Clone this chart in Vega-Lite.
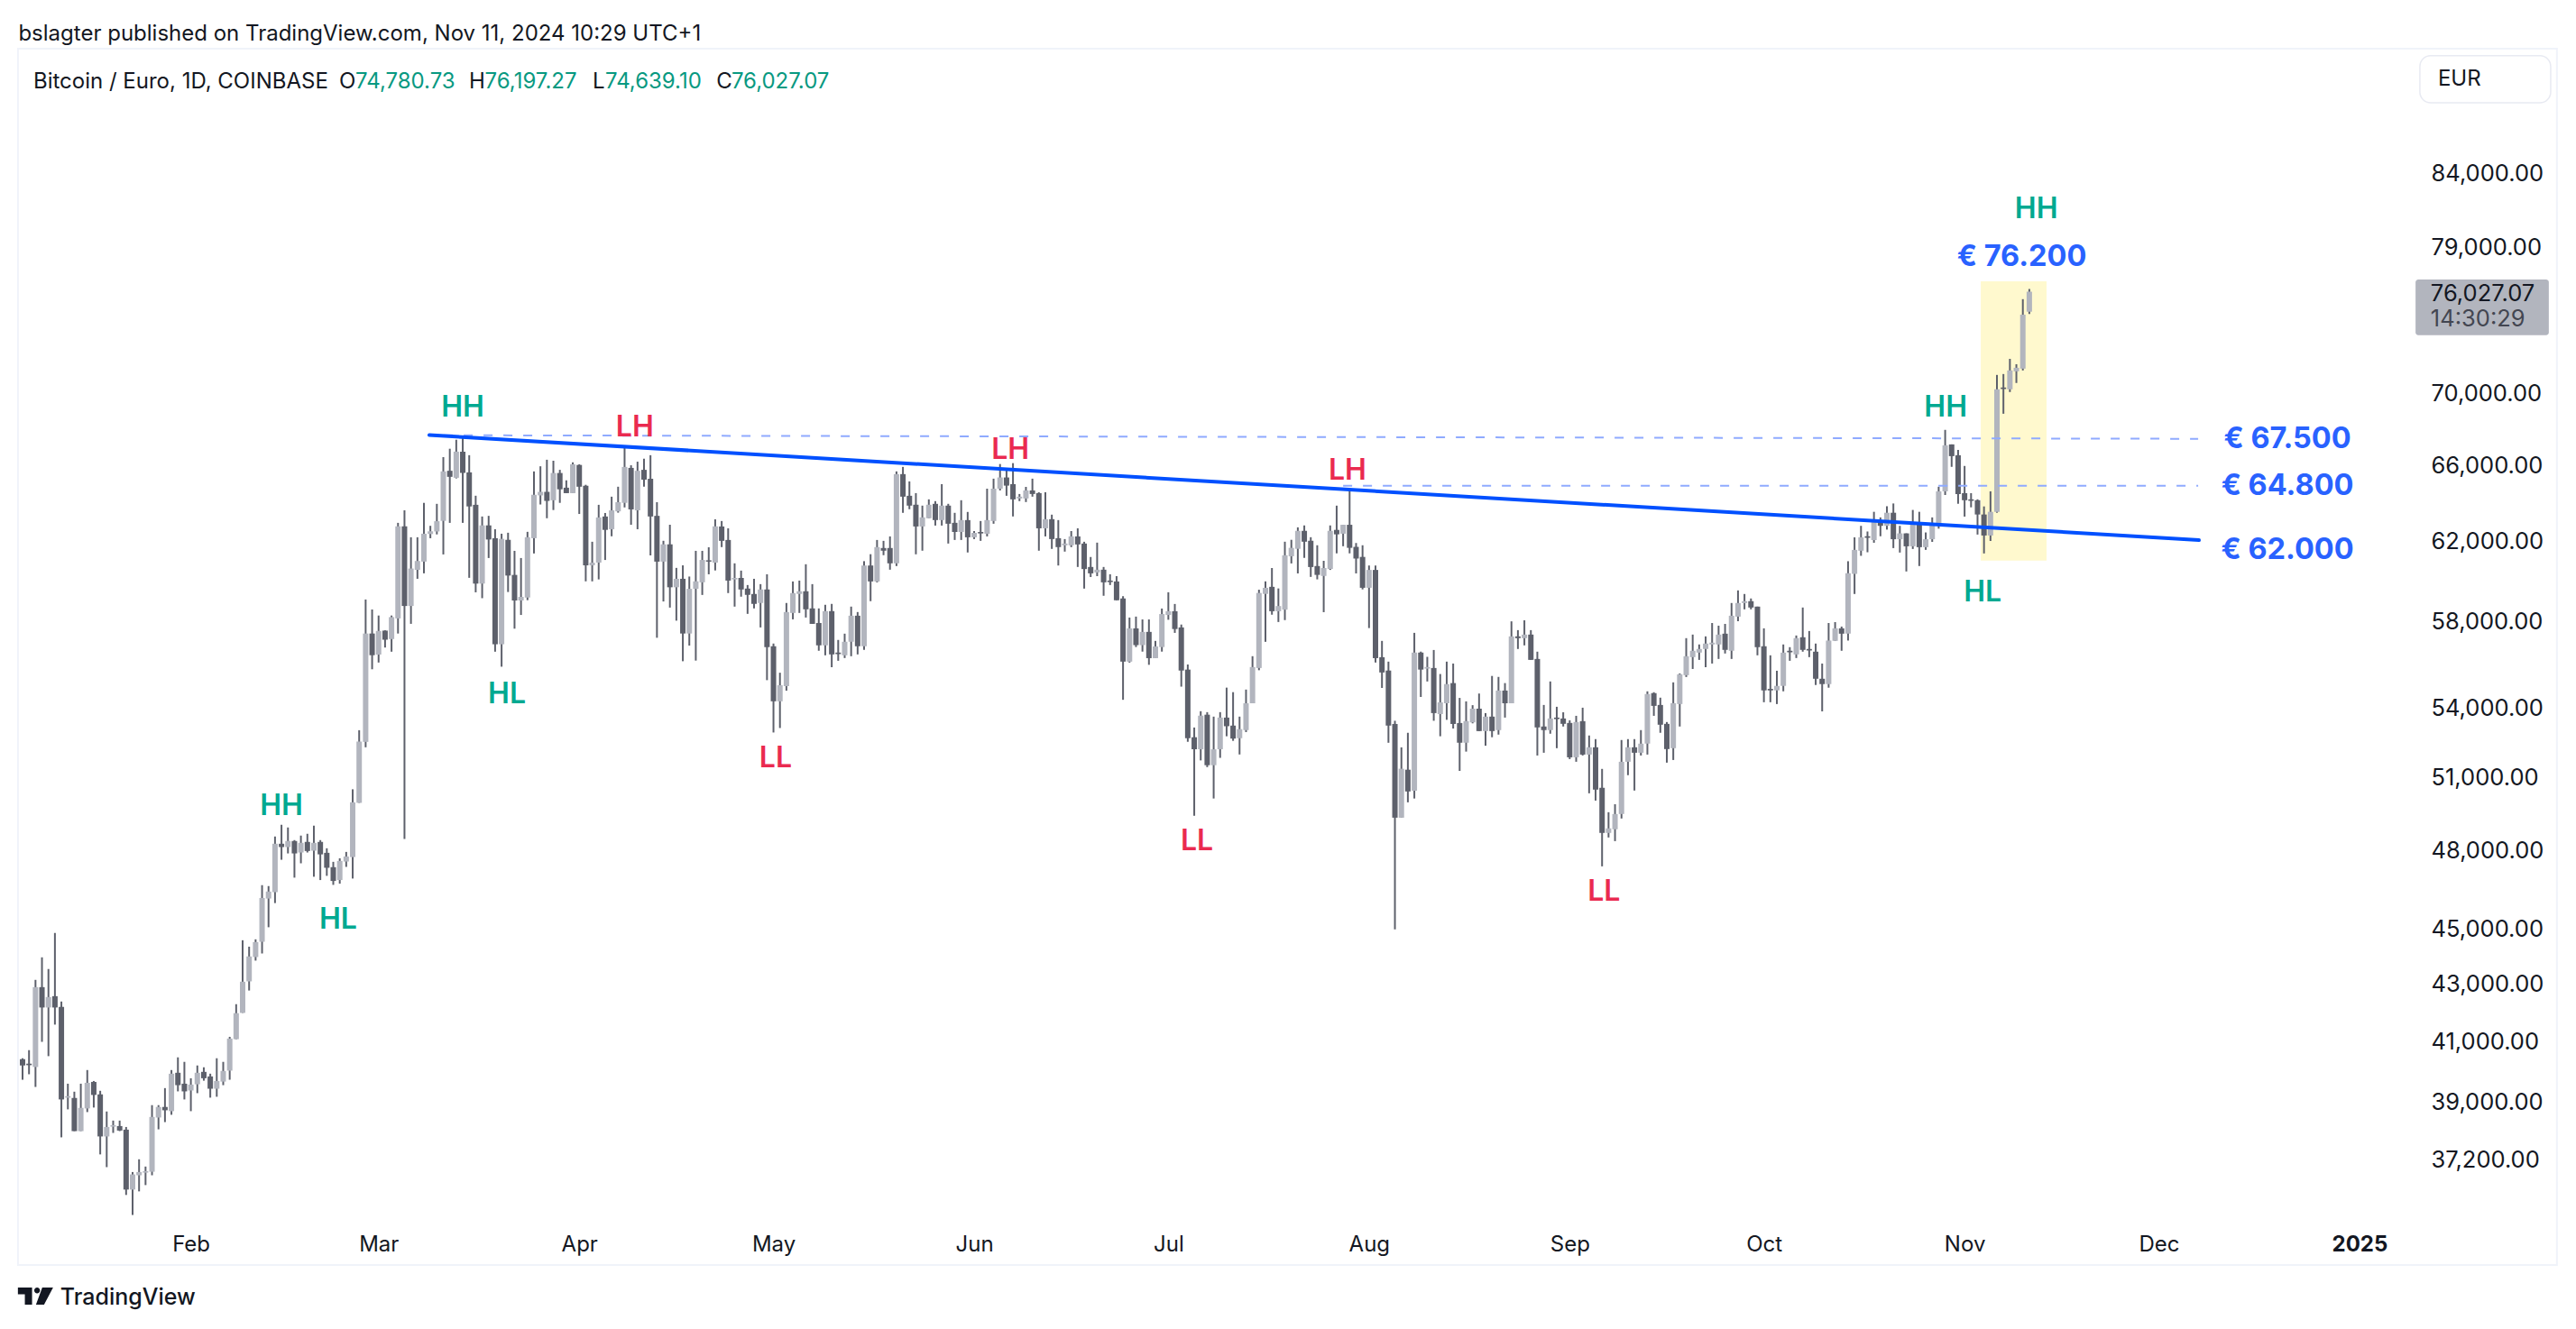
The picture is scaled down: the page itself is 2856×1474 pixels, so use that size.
{"$schema":"https://vega.github.io/schema/vega-lite/v6.json","width":2856,"height":1474,"autosize":{"type":"none"},"padding":0,"background":"white","config":{"view":{"stroke":null},"font":"Inter"},
"resolve":{"scale":{"color":"independent"}},
"datasets":{
"frame":[{"date":"2024-01-05T07:00:00Z","date2":"2025-01-31T12:00:00Z","price":92913,"price2":34043}],
"zone":[{"date":"2024-11-03T12:00:00Z","date2":"2024-11-13T16:00:00Z","price":76680,"price2":60895}],
"button":[{"date":"2025-01-10T08:00:00Z","date2":"2025-01-30T13:00:00Z","price":92383,"price2":88855}],
"tag":[{"date":"2025-01-09T16:00:00Z","date2":"2025-01-30T06:00:00Z","price":76795,"price2":73347}],
"trend":[{"date":"2024-03-08T20:00:00Z","price":67541},{"date":"2024-12-07T05:00:00Z","price":61932}],
"dash1":[{"date":"2024-03-11T02:00:00Z","price":67531},{"date":"2024-12-07T02:00:00Z","price":67331}],
"dash2":[{"date":"2024-07-28T00:00:00Z","price":64779},{"date":"2024-12-07T02:00:00Z","price":64779}],
"swings":[
{"date":"2024-02-15T00:00:00Z","price":49809,"label":"HH","kind":"up"},
{"date":"2024-02-23T18:00:00Z","price":45350,"label":"HL","kind":"up"},
{"date":"2024-03-14T00:00:00Z","price":69195,"label":"HH","kind":"up"},
{"date":"2024-04-09T14:00:00Z","price":68071,"label":"LH","kind":"down"},
{"date":"2024-03-20T20:00:00Z","price":54631,"label":"HL","kind":"up"},
{"date":"2024-05-01T08:00:00Z","price":51800,"label":"LL","kind":"down"},
{"date":"2024-06-06T14:00:00Z","price":66816,"label":"LH","kind":"down"},
{"date":"2024-07-28T16:00:00Z","price":65681,"label":"LH","kind":"down"},
{"date":"2024-07-05T10:00:00Z","price":48373,"label":"LL","kind":"down"},
{"date":"2024-09-06T07:00:00Z","price":46397,"label":"LL","kind":"down"},
{"date":"2024-10-29T02:00:00Z","price":69195,"label":"HH","kind":"up"},
{"date":"2024-11-03T19:00:00Z","price":59404,"label":"HL","kind":"up"},
{"date":"2024-11-12T02:00:00Z","price":81506,"label":"HH","kind":"up"}],
"levels":[
{"date":"2024-11-09T20:00:00Z","price":78370,"label":"€ 76.200"},
{"date":"2024-12-20T21:00:00Z","price":67417,"label":"€ 67.500"},
{"date":"2024-12-20T21:00:00Z","price":64871,"label":"€ 64.800"},
{"date":"2024-12-20T21:00:00Z","price":61532,"label":"€ 62.000"}],
"header":[
{"date":"2024-01-05T08:40:00Z","price":94117,"label":"bslagter published on TradingView.com, Nov 11, 2024 10:29 UTC+1","kind":"ink"},
{"date":"2024-01-07T16:00:00Z","price":90456,"label":"Bitcoin / Euro, 1D, COINBASE","kind":"ink"},
{"date":"2024-02-23T22:00:00Z","price":90456,"label":"O","kind":"ink"},
{"date":"2024-02-26T10:00:00Z","price":90456,"label":"74,780.73","kind":"green"},
{"date":"2024-03-14T23:00:00Z","price":90456,"label":"H","kind":"ink"},
{"date":"2024-03-17T10:00:00Z","price":90456,"label":"76,197.27","kind":"green"},
{"date":"2024-04-03T01:00:00Z","price":90456,"label":"L","kind":"ink"},
{"date":"2024-04-05T00:00:00Z","price":90456,"label":"74,639.10","kind":"green"},
{"date":"2024-04-22T04:00:00Z","price":90456,"label":"C","kind":"ink"},
{"date":"2024-04-24T12:00:00Z","price":90456,"label":"76,027.07","kind":"green"},
{"date":"2025-01-13T03:00:00Z","price":90660,"label":"EUR","kind":"ink"}],
"tagtext":[
{"date":"2025-01-12T00:00:00Z","price":75941,"label":"76,027.07","kind":"ink"},
{"date":"2025-01-12T00:00:00Z","price":74376,"label":"14:30:29","kind":"muted"}],
"brand":[{"date":"2024-01-11T20:00:00Z","price":33144,"label":"TradingView"}],
"logo":[{"date":"2024-01-08T00:00:00Z","price":33181}],
"candles":[
{"date":"2024-01-06","open":40349,"high":40379,"low":39669,"close":40139},
{"date":"2024-01-07","open":40199,"high":40650,"low":39849,"close":40149},
{"date":"2024-01-08","open":40089,"high":43078,"low":39434,"close":42820},
{"date":"2024-01-09","open":42820,"high":43887,"low":40930,"close":42107},
{"date":"2024-01-10","open":42107,"high":43466,"low":40449,"close":42471},
{"date":"2024-01-11","open":42502,"high":44779,"low":41516,"close":42107},
{"date":"2024-01-12","open":42128,"high":42315,"low":37827,"close":39029},
{"date":"2024-01-13","open":39087,"high":39540,"low":38711,"close":39135},
{"date":"2024-01-14","open":39077,"high":39280,"low":38022,"close":38022},
{"date":"2024-01-15","open":38022,"high":39540,"low":38022,"close":38759},
{"date":"2024-01-16","open":38740,"high":39988,"low":38624,"close":39569},
{"date":"2024-01-17","open":39598,"high":39628,"low":38769,"close":39174},
{"date":"2024-01-18","open":39193,"high":39309,"low":37298,"close":37855},
{"date":"2024-01-19","open":37855,"high":38643,"low":36908,"close":38152},
{"date":"2024-01-20","open":38162,"high":38354,"low":37966,"close":38210},
{"date":"2024-01-21","open":38181,"high":38354,"low":38022,"close":38040},
{"date":"2024-01-22","open":38068,"high":38152,"low":36070,"close":36231},
{"date":"2024-01-23","open":36231,"high":36759,"low":35479,"close":36687},
{"date":"2024-01-24","open":36661,"high":37148,"low":36177,"close":36759},
{"date":"2024-01-25","open":36741,"high":36926,"low":36365,"close":36787},
{"date":"2024-01-26","open":36768,"high":38846,"low":36661,"close":38470},
{"date":"2024-01-27","open":38451,"high":38846,"low":38078,"close":38788},
{"date":"2024-01-28","open":38788,"high":39396,"low":38306,"close":38682},
{"date":"2024-01-29","open":38653,"high":39988,"low":38538,"close":39868},
{"date":"2024-01-30","open":39898,"high":40409,"low":39290,"close":39492},
{"date":"2024-01-31","open":39540,"high":40259,"low":39029,"close":39290},
{"date":"2024-02-01","open":39318,"high":39718,"low":38653,"close":39511},
{"date":"2024-02-02","open":39521,"high":40139,"low":39232,"close":39898},
{"date":"2024-02-03","open":39928,"high":40079,"low":39638,"close":39718},
{"date":"2024-02-04","open":39778,"high":39868,"low":39087,"close":39376},
{"date":"2024-02-05","open":39376,"high":40379,"low":39116,"close":39628},
{"date":"2024-02-06","open":39608,"high":40259,"low":39492,"close":39958},
{"date":"2024-02-07","open":39968,"high":41100,"low":39669,"close":41040},
{"date":"2024-02-08","open":41020,"high":42222,"low":41020,"close":41910},
{"date":"2024-02-09","open":41920,"high":44510,"low":41920,"close":43014},
{"date":"2024-02-10","open":43024,"high":44275,"low":42701,"close":43919},
{"date":"2024-02-11","open":43898,"high":44544,"low":43768,"close":44443},
{"date":"2024-02-12","open":44454,"high":46581,"low":44027,"close":46092},
{"date":"2024-02-13","open":46069,"high":46546,"low":44991,"close":46336},
{"date":"2024-02-14","open":46313,"high":48490,"low":45897,"close":48201},
{"date":"2024-02-15","open":48201,"high":48962,"low":47568,"close":48069},
{"date":"2024-02-16","open":48069,"high":48853,"low":47817,"close":48310},
{"date":"2024-02-17","open":48310,"high":48346,"low":46871,"close":47817},
{"date":"2024-02-18","open":47853,"high":48527,"low":47429,"close":48238},
{"date":"2024-02-19","open":48274,"high":48599,"low":47853,"close":47913},
{"date":"2024-02-20","open":47925,"high":48926,"low":46906,"close":48238},
{"date":"2024-02-21","open":48274,"high":48346,"low":46778,"close":47780},
{"date":"2024-02-22","open":47841,"high":48021,"low":46941,"close":47254},
{"date":"2024-02-23","open":47278,"high":47487,"low":46592,"close":46743},
{"date":"2024-02-24","open":46778,"high":47626,"low":46639,"close":47522},
{"date":"2024-02-25","open":47498,"high":47877,"low":47289,"close":47696},
{"date":"2024-02-26","open":47673,"high":50417,"low":46836,"close":49879},
{"date":"2024-02-27","open":49856,"high":52937,"low":49856,"close":52443},
{"date":"2024-02-28","open":52429,"high":58968,"low":52196,"close":57335},
{"date":"2024-02-29","open":57335,"high":58484,"low":55668,"close":56318},
{"date":"2024-03-01","open":56348,"high":58193,"low":55979,"close":57457},
{"date":"2024-03-02","open":57473,"high":57488,"low":56676,"close":57043},
{"date":"2024-03-03","open":57073,"high":58193,"low":56481,"close":58117},
{"date":"2024-03-04","open":58055,"high":62820,"low":57335,"close":62639},
{"date":"2024-03-05","open":62639,"high":63470,"low":48390,"close":58653},
{"date":"2024-03-06","open":58653,"high":62077,"low":57795,"close":60495},
{"date":"2024-03-07","open":60431,"high":62077,"low":59985,"close":60873},
{"date":"2024-03-08","open":60841,"high":63865,"low":60256,"close":62259},
{"date":"2024-03-09","open":62242,"high":62666,"low":62028,"close":62383},
{"date":"2024-03-10","open":62374,"high":63813,"low":62223,"close":62905},
{"date":"2024-03-11","open":62922,"high":66321,"low":61203,"close":65544},
{"date":"2024-03-12","open":65578,"high":66783,"low":62819,"close":65252},
{"date":"2024-03-13","open":65201,"high":67281,"low":65167,"close":66623},
{"date":"2024-03-14","open":66623,"high":67370,"low":62819,"close":65458},
{"date":"2024-03-15","open":65492,"high":66428,"low":60033,"close":63676},
{"date":"2024-03-16","open":63762,"high":64242,"low":59319,"close":59747},
{"date":"2024-03-17","open":59747,"high":63150,"low":59032,"close":62688},
{"date":"2024-03-18","open":62688,"high":63183,"low":61022,"close":61962},
{"date":"2024-03-19","open":62028,"high":62490,"low":56481,"close":56829},
{"date":"2024-03-20","open":56829,"high":62259,"low":55786,"close":61995},
{"date":"2024-03-21","open":61945,"high":62309,"low":59334,"close":60145},
{"date":"2024-03-22","open":60177,"high":61385,"low":57565,"close":58920},
{"date":"2024-03-23","open":58920,"high":61022,"low":58220,"close":59095},
{"date":"2024-03-24","open":59063,"high":62356,"low":58936,"close":62078},
{"date":"2024-03-25","open":62028,"high":65544,"low":61252,"close":64293},
{"date":"2024-03-26","open":64259,"high":65823,"low":63779,"close":64448},
{"date":"2024-03-27","open":64448,"high":66179,"low":63059,"close":63968},
{"date":"2024-03-28","open":64002,"high":66126,"low":63488,"close":65458},
{"date":"2024-03-29","open":65458,"high":65630,"low":63865,"close":64584},
{"date":"2024-03-30","open":64670,"high":65064,"low":64379,"close":64379},
{"date":"2024-03-31","open":64379,"high":66037,"low":64379,"close":65930},
{"date":"2024-04-01","open":65895,"high":65930,"low":63282,"close":64721},
{"date":"2024-04-02","open":64773,"high":64824,"low":59859,"close":60654},
{"date":"2024-04-03","open":60654,"high":61847,"low":59859,"close":60790},
{"date":"2024-04-04","open":60790,"high":63762,"low":59954,"close":63100},
{"date":"2024-04-05","open":63150,"high":63333,"low":60923,"close":62456},
{"date":"2024-04-06","open":62490,"high":64191,"low":62127,"close":63471},
{"date":"2024-04-07","open":63419,"high":64721,"low":63350,"close":63899},
{"date":"2024-04-08","open":63865,"high":66925,"low":63625,"close":65788},
{"date":"2024-04-09","open":65735,"high":65877,"low":62721,"close":63522},
{"date":"2024-04-10","open":63471,"high":66073,"low":62490,"close":65578},
{"date":"2024-04-11","open":65630,"high":66232,"low":64721,"close":65098},
{"date":"2024-04-12","open":65149,"high":66428,"low":61153,"close":63150},
{"date":"2024-04-13","open":63183,"high":63899,"low":57135,"close":60841},
{"date":"2024-04-14","open":60841,"high":61896,"low":58872,"close":61715},
{"date":"2024-04-15","open":61715,"high":62721,"low":58576,"close":59566},
{"date":"2024-04-16","open":59566,"high":60527,"low":57947,"close":59985},
{"date":"2024-04-17","open":59985,"high":60654,"low":56038,"close":57335},
{"date":"2024-04-18","open":57335,"high":60096,"low":56768,"close":59490},
{"date":"2024-04-19","open":59490,"high":61385,"low":56068,"close":59859},
{"date":"2024-04-20","open":59811,"high":61385,"low":59190,"close":60924},
{"date":"2024-04-21","open":60908,"high":61566,"low":60208,"close":60841},
{"date":"2024-04-22","open":60790,"high":63003,"low":60399,"close":62639},
{"date":"2024-04-23","open":62632,"high":62915,"low":61574,"close":61893},
{"date":"2024-04-24","open":61938,"high":62537,"low":59282,"close":59896},
{"date":"2024-04-25","open":59955,"high":60755,"low":58623,"close":60028},
{"date":"2024-04-26","open":60028,"high":60391,"low":59106,"close":59458},
{"date":"2024-04-27","open":59502,"high":59677,"low":58273,"close":59194},
{"date":"2024-04-28","open":59238,"high":59984,"low":58536,"close":58755},
{"date":"2024-04-29","open":58799,"high":59721,"low":57624,"close":59458},
{"date":"2024-04-30","open":59458,"high":60209,"low":55170,"close":56694},
{"date":"2024-05-01","open":56736,"high":56863,"low":52837,"close":54215},
{"date":"2024-05-02","open":54215,"high":55509,"low":53033,"close":54939},
{"date":"2024-05-03","open":54898,"high":58799,"low":54694,"close":58361},
{"date":"2024-05-04","open":58317,"high":59853,"low":58010,"close":59282},
{"date":"2024-05-05","open":59238,"high":59896,"low":58317,"close":59370},
{"date":"2024-05-06","open":59370,"high":60709,"low":58097,"close":58492},
{"date":"2024-05-07","open":58536,"high":59721,"low":57793,"close":57793},
{"date":"2024-05-08","open":57836,"high":58536,"low":56525,"close":56779},
{"date":"2024-05-09","open":56779,"high":58711,"low":56313,"close":58405},
{"date":"2024-05-10","open":58405,"high":58755,"low":55763,"close":56355},
{"date":"2024-05-11","open":56440,"high":57032,"low":56059,"close":56369},
{"date":"2024-05-12","open":56313,"high":57328,"low":56186,"close":56947},
{"date":"2024-05-13","open":56947,"high":58623,"low":56271,"close":58185},
{"date":"2024-05-14","open":58185,"high":58361,"low":56355,"close":56736},
{"date":"2024-05-15","open":56736,"high":60864,"low":56567,"close":60646},
{"date":"2024-05-16","open":60646,"high":61215,"low":58887,"close":59853},
{"date":"2024-05-17","open":59853,"high":61938,"low":59809,"close":61574},
{"date":"2024-05-18","open":61528,"high":61893,"low":61165,"close":61392},
{"date":"2024-05-19","open":61528,"high":62120,"low":60437,"close":60755},
{"date":"2024-05-20","open":60755,"high":65545,"low":60618,"close":65398},
{"date":"2024-05-21","open":65398,"high":65790,"low":63341,"close":64192},
{"date":"2024-05-22","open":64239,"high":65006,"low":63530,"close":63719},
{"date":"2024-05-23","open":63767,"high":64381,"low":61210,"close":62632},
{"date":"2024-05-24","open":62632,"high":63719,"low":61392,"close":63105},
{"date":"2024-05-25","open":63058,"high":64050,"low":63058,"close":63767},
{"date":"2024-05-26","open":63814,"high":63956,"low":62679,"close":62963},
{"date":"2024-05-27","open":62963,"high":64860,"low":62679,"close":63719},
{"date":"2024-05-28","open":63719,"high":63814,"low":61756,"close":62774},
{"date":"2024-05-29","open":62821,"high":63341,"low":61938,"close":62348},
{"date":"2024-05-30","open":62348,"high":64003,"low":61938,"close":62963},
{"date":"2024-05-31","open":62963,"high":63388,"low":61302,"close":62075},
{"date":"2024-06-01","open":62075,"high":62395,"low":61984,"close":62303},
{"date":"2024-06-02","open":62348,"high":62915,"low":61893,"close":62272},
{"date":"2024-06-03","open":62257,"high":64617,"low":62120,"close":62963},
{"date":"2024-06-04","open":62915,"high":65153,"low":62774,"close":64617},
{"date":"2024-06-05","open":64617,"high":65945,"low":64523,"close":65218},
{"date":"2024-06-06","open":65218,"high":65642,"low":64239,"close":64780},
{"date":"2024-06-07","open":64860,"high":65994,"low":63152,"close":64050},
{"date":"2024-06-08","open":64097,"high":64334,"low":63956,"close":64192},
{"date":"2024-06-09","open":64097,"high":64712,"low":63908,"close":64523},
{"date":"2024-06-10","open":64523,"high":65153,"low":64192,"close":64334},
{"date":"2024-06-11","open":64381,"high":64428,"low":61392,"close":62537},
{"date":"2024-06-12","open":62537,"high":64428,"low":62120,"close":63010},
{"date":"2024-06-13","open":63010,"high":63246,"low":61483,"close":61984},
{"date":"2024-06-14","open":62029,"high":62963,"low":60646,"close":61574},
{"date":"2024-06-15","open":61665,"high":61984,"low":61346,"close":61756},
{"date":"2024-06-16","open":61665,"high":62395,"low":61574,"close":62120},
{"date":"2024-06-17","open":62120,"high":62537,"low":60573,"close":61710},
{"date":"2024-06-18","open":61756,"high":61847,"low":59501,"close":60467},
{"date":"2024-06-19","open":60573,"high":61074,"low":60072,"close":60254},
{"date":"2024-06-20","open":60300,"high":61802,"low":60117,"close":60437},
{"date":"2024-06-21","open":60437,"high":60573,"low":59150,"close":59809},
{"date":"2024-06-22","open":59896,"high":60209,"low":59677,"close":59824},
{"date":"2024-06-23","open":59853,"high":60117,"low":58931,"close":58931},
{"date":"2024-06-24","open":59019,"high":59130,"low":54282,"close":56020},
{"date":"2024-06-25","open":56020,"high":58096,"low":55976,"close":57579},
{"date":"2024-06-26","open":57579,"high":58142,"low":56698,"close":56789},
{"date":"2024-06-27","open":56789,"high":58005,"low":56485,"close":57412},
{"date":"2024-06-28","open":57412,"high":58005,"low":55873,"close":56181},
{"date":"2024-06-29","open":56181,"high":56987,"low":56181,"close":56728},
{"date":"2024-06-30","open":56698,"high":58530,"low":56485,"close":58263},
{"date":"2024-07-01","open":58218,"high":59322,"low":57990,"close":58400},
{"date":"2024-07-02","open":58400,"high":58751,"low":57366,"close":57548},
{"date":"2024-07-03","open":57624,"high":57761,"low":54875,"close":55609},
{"date":"2024-07-04","open":55653,"high":55888,"low":52433,"close":52589},
{"date":"2024-07-05","open":52631,"high":53055,"low":49327,"close":52110},
{"date":"2024-07-06","open":52110,"high":53774,"low":51634,"close":53577},
{"date":"2024-07-07","open":53619,"high":53732,"low":51348,"close":51430},
{"date":"2024-07-08","open":51430,"high":53534,"low":50035,"close":52110},
{"date":"2024-07-09","open":52110,"high":53732,"low":51743,"close":53492},
{"date":"2024-07-10","open":53492,"high":54831,"low":52673,"close":53111},
{"date":"2024-07-11","open":53139,"high":54626,"low":52474,"close":52573},
{"date":"2024-07-12","open":52589,"high":53534,"low":51887,"close":52983},
{"date":"2024-07-13","open":52941,"high":54743,"low":52856,"close":54127},
{"date":"2024-07-14","open":54127,"high":56272,"low":54127,"close":55770},
{"date":"2024-07-15","open":55726,"high":59446,"low":55624,"close":59288},
{"date":"2024-07-16","open":59241,"high":59857,"low":56944,"close":59541},
{"date":"2024-07-17","open":59588,"high":60520,"low":58233,"close":58400},
{"date":"2024-07-18","open":58400,"high":59509,"low":57883,"close":58650},
{"date":"2024-07-19","open":58476,"high":61849,"low":57974,"close":61160},
{"date":"2024-07-20","open":61111,"high":61947,"low":60750,"close":61537},
{"date":"2024-07-21","open":61488,"high":62587,"low":60252,"close":62407},
{"date":"2024-07-22","open":62407,"high":62686,"low":61029,"close":61849},
{"date":"2024-07-23","open":61898,"high":62079,"low":60078,"close":60569},
{"date":"2024-07-24","open":60619,"high":61668,"low":59956,"close":60178},
{"date":"2024-07-25","open":60125,"high":60881,"low":58355,"close":60520},
{"date":"2024-07-26","open":60473,"high":62686,"low":60425,"close":62407},
{"date":"2024-07-27","open":62456,"high":63718,"low":61258,"close":62226},
{"date":"2024-07-28","open":62259,"high":62719,"low":61619,"close":62719},
{"date":"2024-07-29","open":62719,"high":64619,"low":61258,"close":61537},
{"date":"2024-07-30","open":61586,"high":61783,"low":60252,"close":60996},
{"date":"2024-07-31","open":61078,"high":61668,"low":59462,"close":59541},
{"date":"2024-08-01","open":59541,"high":60646,"low":57594,"close":60425},
{"date":"2024-08-02","open":60425,"high":60646,"low":55976,"close":56181},
{"date":"2024-08-03","open":56225,"high":56987,"low":54817,"close":55521},
{"date":"2024-08-04","open":55609,"high":56020,"low":52391,"close":53139},
{"date":"2024-08-05","open":53210,"high":53351,"low":44912,"close":49249},
{"date":"2024-08-06","open":49249,"high":52193,"low":49249,"close":51280},
{"date":"2024-08-07","open":51239,"high":52824,"low":49878,"close":50327},
{"date":"2024-08-08","open":50354,"high":57367,"low":50035,"close":56440},
{"date":"2024-08-09","open":56440,"high":56485,"low":54410,"close":55653},
{"date":"2024-08-10","open":55697,"high":56242,"low":55110,"close":55770},
{"date":"2024-08-11","open":55726,"high":56561,"low":53351,"close":53690},
{"date":"2024-08-12","open":53647,"high":55450,"low":52673,"close":54169},
{"date":"2024-08-13","open":54127,"high":56020,"low":53393,"close":54992},
{"date":"2024-08-14","open":55036,"high":55932,"low":53012,"close":53210},
{"date":"2024-08-15","open":53252,"high":54367,"low":51188,"close":52393},
{"date":"2024-08-16","open":52393,"high":54212,"low":52010,"close":53337},
{"date":"2024-08-17","open":53280,"high":54042,"low":53238,"close":53887},
{"date":"2024-08-18","open":53887,"high":54564,"low":52899,"close":52899},
{"date":"2024-08-19","open":52899,"high":53690,"low":52264,"close":53534},
{"date":"2024-08-20","open":53534,"high":55362,"low":52631,"close":52899},
{"date":"2024-08-21","open":52941,"high":55318,"low":52745,"close":54699},
{"date":"2024-08-22","open":54699,"high":55036,"low":53492,"close":54127},
{"date":"2024-08-23","open":54127,"high":57914,"low":54127,"close":57199},
{"date":"2024-08-24","open":57200,"high":57496,"low":56608,"close":57116},
{"date":"2024-08-25","open":57116,"high":57965,"low":56777,"close":57285},
{"date":"2024-08-26","open":57285,"high":57496,"low":56101,"close":56101},
{"date":"2024-08-27","open":56144,"high":56482,"low":51843,"close":53059},
{"date":"2024-08-28","open":53099,"high":54052,"low":51961,"close":52942},
{"date":"2024-08-29","open":52942,"high":55111,"low":52784,"close":53452},
{"date":"2024-08-30","open":53491,"high":53970,"low":52157,"close":53425},
{"date":"2024-08-31","open":53452,"high":53726,"low":53099,"close":53216},
{"date":"2024-09-01","open":53255,"high":53373,"low":51689,"close":51765},
{"date":"2024-09-02","open":51765,"high":53569,"low":51576,"close":53295},
{"date":"2024-09-03","open":53334,"high":53930,"low":51843,"close":51883},
{"date":"2024-09-04","open":51883,"high":52706,"low":50251,"close":52196},
{"date":"2024-09-05","open":52196,"high":52549,"low":49949,"close":50403},
{"date":"2024-09-06","open":50479,"high":51273,"low":47310,"close":48634},
{"date":"2024-09-07","open":48634,"high":49472,"low":48451,"close":48816},
{"date":"2024-09-08","open":48780,"high":49800,"low":48305,"close":49399},
{"date":"2024-09-09","open":49399,"high":52510,"low":49216,"close":51576},
{"date":"2024-09-10","open":51576,"high":52549,"low":51008,"close":52196},
{"date":"2024-09-11","open":52196,"high":52549,"low":50365,"close":51961},
{"date":"2024-09-12","open":51961,"high":52941,"low":51843,"close":52353},
{"date":"2024-09-13","open":52354,"high":54663,"low":51883,"close":54541},
{"date":"2024-09-14","open":54582,"high":54622,"low":53569,"close":54011},
{"date":"2024-09-15","open":54052,"high":54378,"low":52824,"close":53177},
{"date":"2024-09-16","open":53216,"high":53295,"low":51538,"close":52118},
{"date":"2024-09-17","open":52157,"high":55070,"low":51651,"close":54133},
{"date":"2024-09-18","open":54092,"high":55478,"low":53099,"close":55437},
{"date":"2024-09-19","open":55396,"high":57116,"low":55315,"close":56270},
{"date":"2024-09-20","open":56228,"high":57285,"low":55682,"close":56524},
{"date":"2024-09-21","open":56439,"high":56820,"low":56101,"close":56608},
{"date":"2024-09-22","open":56608,"high":57200,"low":55763,"close":56862},
{"date":"2024-09-23","open":56820,"high":57835,"low":55932,"close":56904},
{"date":"2024-09-24","open":56820,"high":57708,"low":56144,"close":57285},
{"date":"2024-09-25","open":57327,"high":57793,"low":56397,"close":56566},
{"date":"2024-09-26","open":56524,"high":58798,"low":56144,"close":58184},
{"date":"2024-09-27","open":58140,"high":59413,"low":57921,"close":58798},
{"date":"2024-09-28","open":58798,"high":59237,"low":58491,"close":58886},
{"date":"2024-09-29","open":58886,"high":59018,"low":58491,"close":58579},
{"date":"2024-09-30","open":58623,"high":58623,"low":56313,"close":56693},
{"date":"2024-10-01","open":56735,"high":57581,"low":54174,"close":54706},
{"date":"2024-10-02","open":54774,"high":56313,"low":54174,"close":54706},
{"date":"2024-10-03","open":54706,"high":55600,"low":54092,"close":54909},
{"date":"2024-10-04","open":54909,"high":56820,"low":54665,"close":56439},
{"date":"2024-10-05","open":56524,"high":56693,"low":56059,"close":56453},
{"date":"2024-10-06","open":56354,"high":57242,"low":56186,"close":57116},
{"date":"2024-10-07","open":57158,"high":58579,"low":56482,"close":56566},
{"date":"2024-10-08","open":56608,"high":57454,"low":56228,"close":56538},
{"date":"2024-10-09","open":56482,"high":56862,"low":54950,"close":55234},
{"date":"2024-10-10","open":55234,"high":55932,"low":53767,"close":54991},
{"date":"2024-10-11","open":54991,"high":57835,"low":54828,"close":57003},
{"date":"2024-10-12","open":56989,"high":57877,"low":56989,"close":57581},
{"date":"2024-10-13","open":57581,"high":57665,"low":56524,"close":57327},
{"date":"2024-10-14","open":57327,"high":60861,"low":57003,"close":60258},
{"date":"2024-10-15","open":60228,"high":62074,"low":59237,"close":61434},
{"date":"2024-10-16","open":61389,"high":62665,"low":61133,"close":62074},
{"date":"2024-10-17","open":62129,"high":62373,"low":61313,"close":62048},
{"date":"2024-10-18","open":61933,"high":63395,"low":61796,"close":62860},
{"date":"2024-10-19","open":62860,"high":63103,"low":62129,"close":62665},
{"date":"2024-10-20","open":62665,"high":63687,"low":62470,"close":63346},
{"date":"2024-10-21","open":63346,"high":63833,"low":61524,"close":61976},
{"date":"2024-10-22","open":61976,"high":62665,"low":61298,"close":62276},
{"date":"2024-10-23","open":62276,"high":62276,"low":60349,"close":61615},
{"date":"2024-10-24","open":61615,"high":63492,"low":61479,"close":62860},
{"date":"2024-10-25","open":62860,"high":63395,"low":60620,"close":61570},
{"date":"2024-10-26","open":61570,"high":62324,"low":61434,"close":61976},
{"date":"2024-10-27","open":61976,"high":63103,"low":61841,"close":62811},
{"date":"2024-10-28","open":62763,"high":64720,"low":62519,"close":64476},
{"date":"2024-10-29","open":64476,"high":67831,"low":64282,"close":66971},
{"date":"2024-10-30","open":67022,"high":67022,"low":65792,"close":66376},
{"date":"2024-10-31","open":66425,"high":66718,"low":63817,"close":64330},
{"date":"2024-11-01","open":64379,"high":65841,"low":63145,"close":64004},
{"date":"2024-11-02","open":64051,"high":64379,"low":63630,"close":63973},
{"date":"2024-11-03","open":64004,"high":64051,"low":62215,"close":63254},
{"date":"2024-11-04","open":63254,"high":63677,"low":61253,"close":62167},
{"date":"2024-11-05","open":62167,"high":64476,"low":61886,"close":63395},
{"date":"2024-11-06","open":63395,"high":70979,"low":63346,"close":70140},
{"date":"2024-11-07","open":70245,"high":71031,"low":68740,"close":70157},
{"date":"2024-11-08","open":70140,"high":71928,"low":69983,"close":71242},
{"date":"2024-11-09","open":71190,"high":71609,"low":70508,"close":71399},
{"date":"2024-11-10","open":71347,"high":75559,"low":71242,"close":74598},
{"date":"2024-11-11","open":74780.73,"high":76197.27,"low":74639.10,"close":76027.07}
]},
"encoding":{
"x":{"field":"date","type":"temporal","title":null,"scale":{"type":"utc","domain":[1704198240000,1738579680000],"nice":false,"padding":0},
"axis":{"orient":"bottom","offset":-106,"domain":false,"ticks":false,"grid":false,"labelPadding":0,"labelFont":"Inter","labelFontSize":24,"labelColor":"#131722","labelOverlap":false,"labelFlush":false,"labelBound":false,"title":null,
"values":[{"year":2024,"month":2,"date":1,"utc":true},{"year":2024,"month":3,"date":1,"utc":true},{"year":2024,"month":4,"date":1,"utc":true},{"year":2024,"month":5,"date":1,"utc":true},{"year":2024,"month":6,"date":1,"utc":true},{"year":2024,"month":7,"date":1,"utc":true},{"year":2024,"month":8,"date":1,"utc":true},{"year":2024,"month":9,"date":1,"utc":true},{"year":2024,"month":10,"date":1,"utc":true},{"year":2024,"month":11,"date":1,"utc":true},{"year":2024,"month":12,"date":1,"utc":true},{"year":2025,"month":1,"date":1,"utc":true}],
"labelExpr":"utcmonth(datum.value)==0 ? '2025' : utcFormat(datum.value,'%b')",
"labelFontWeight":{"condition":{"test":"utcmonth(datum.value)==0","value":"bold"},"value":"normal"}}},
"y":{"field":"price","type":"quantitative","title":null,"scale":{"type":"log","domain":[32292,96724],"nice":false,"zero":false},
"axis":{"orient":"right","offset":-161,"domain":false,"ticks":false,"grid":false,"labelPadding":0,"labelOffset":2.5,"labelFont":"Inter","labelFontSize":25.5,"labelColor":"#131722","labelOverlap":false,"labelBound":false,"title":null,"format":",.2f",
"values":[84000,79000,70000,66000,62000,58000,54000,51000,48000,45000,43000,41000,39000,37200]}}},
"layer":[
{"data":{"name":"frame"},"mark":{"type":"rect","filled":false,"stroke":"#F0F3FA","strokeWidth":2},"encoding":{"x2":{"field":"date2"},"y2":{"field":"price2"}}},
{"data":{"name":"zone"},"mark":{"type":"rect","fill":"#FFF9CE"},"encoding":{"x2":{"field":"date2"},"y2":{"field":"price2"}}},
{"data":{"name":"candles"},"mark":{"type":"rule","color":"#5D606B","strokeWidth":2},"encoding":{"y":{"field":"low","type":"quantitative","title":null},"y2":{"field":"high"}}},
{"data":{"name":"candles"},"mark":{"type":"bar","size":6},"encoding":{"y":{"field":"open","type":"quantitative","title":null},"y2":{"field":"close"},"color":{"condition":{"test":"datum.close>=datum.open","value":"#B2B5BE"},"value":"#5D606B"}}},
{"data":{"name":"dash1"},"mark":{"type":"line","color":"#8FAAFF","strokeWidth":2,"strokeDash":[10,12]}},
{"data":{"name":"dash2"},"mark":{"type":"line","color":"#8FAAFF","strokeWidth":2,"strokeDash":[10,12]}},
{"data":{"name":"trend"},"mark":{"type":"line","color":"#0050FF","strokeWidth":4,"strokeCap":"round"}},
{"data":{"name":"swings"},"mark":{"type":"text","font":"Inter","fontSize":32,"fontWeight":600,"align":"center","baseline":"middle","dy":2},"encoding":{"text":{"field":"label"},"color":{"field":"kind","type":"nominal","legend":null,"scale":{"domain":["up","down"],"range":["#00A991","#EA2A50"]}}}},
{"data":{"name":"levels"},"mark":{"type":"text","font":"Inter","fontSize":32.5,"fontWeight":700,"align":"center","baseline":"middle","color":"#2962FF","dy":2},"encoding":{"text":{"field":"label"}}},
{"data":{"name":"button"},"mark":{"type":"rect","fill":"white","stroke":"#E8EAF2","strokeWidth":1.5,"cornerRadius":12},"encoding":{"x2":{"field":"date2"},"y2":{"field":"price2"}}},
{"data":{"name":"tag"},"mark":{"type":"rect","fill":"#B2B5BE","cornerRadius":3},"encoding":{"x2":{"field":"date2"},"y2":{"field":"price2"}}},
{"data":{"name":"header"},"mark":{"type":"text","font":"Inter","fontSize":24,"align":"left","baseline":"middle","dy":1},"encoding":{"text":{"field":"label"},"color":{"field":"kind","type":"nominal","legend":null,"scale":{"domain":["ink","green"],"range":["#131722","#089981"]}}}},
{"data":{"name":"tagtext"},"mark":{"type":"text","font":"Inter","fontSize":25.5,"align":"left","baseline":"middle","dy":1},"encoding":{"text":{"field":"label"},"color":{"field":"kind","type":"nominal","legend":null,"scale":{"domain":["ink","muted"],"range":["#131722","#434651"]}}}},
{"data":{"name":"brand"},"mark":{"type":"text","font":"Inter","fontSize":25,"fontWeight":500,"align":"left","baseline":"middle","color":"#131722"},"encoding":{"text":{"field":"label"}}},
{"data":{"name":"logo"},"mark":{"type":"point","filled":true,"color":"#131722","opacity":1,"size":1600,"shape":"M-.975 -.475H-.19V.475H-.59V-.105H-.975ZM-.07 -.31a.16 .16 0 1 0 .32 0a.16 .16 0 1 0 -.32 0ZM.375 -.475H.975L.475 .475H.025Z"}}
]}
